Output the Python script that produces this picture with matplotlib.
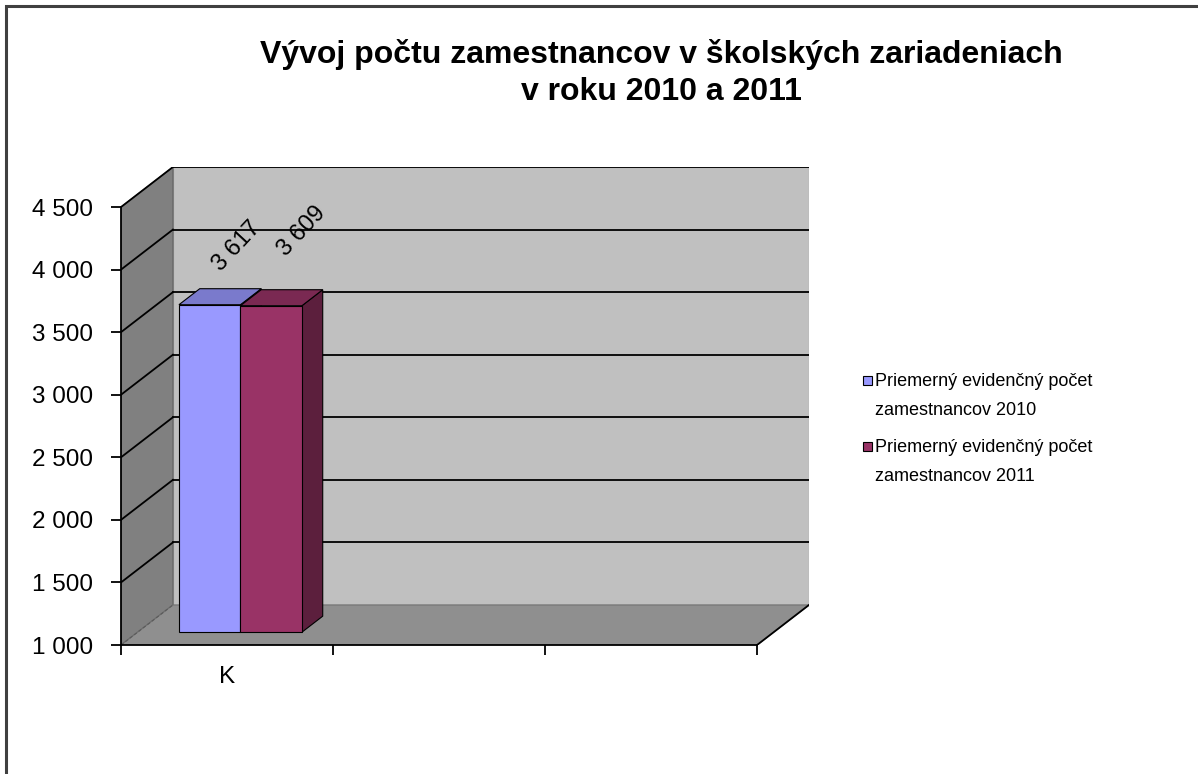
import matplotlib.pyplot as plt
from matplotlib.patches import Polygon, Rectangle

plt.rcParams['font.family'] = ['Liberation Sans', 'DejaVu Sans']

TITLE = 'Vývoj počtu zamestnancov v školských zariadeniach\nv roku 2010 a 2011'
categories = ['K', '', '']
series_names = ['Priemerný evidenčný počet\nzamestnancov 2010',
                'Priemerný evidenčný počet\nzamestnancov 2011']
values = [3617, 3609]
colors_front = ['#9999ff', '#993366']
colors_top = ['#7a7acc', '#7a2952']
colors_side = ['#5c5c99', '#5c1f3d']
yticks = [1000, 1500, 2000, 2500, 3000, 3500, 4000, 4500]

W, H = 1198, 774
fig = plt.figure(figsize=(W / 100, H / 100), dpi=100)

# depth offsets (category units, value units)
DX, DY = 0.245, 320
YMIN, YMAX = yticks[0], yticks[-1]
ncat = len(categories)

ax = fig.add_axes([121 / W, (H - 645) / H, 688 / W, 478 / H])
ax.set_xlim(0, ncat + DX)
ax.set_ylim(YMIN, YMAX + DY)
ax.patch.set_visible(False)

# walls and floor
ax.add_patch(Polygon([(DX, YMIN + DY), (ncat + DX, YMIN + DY), (ncat + DX, YMAX + DY), (DX, YMAX + DY)],
                     fc='#c0c0c0', ec='#9a9a9a', lw=0.8, zorder=0))
ax.add_patch(Polygon([(0, YMIN), (DX, YMIN + DY), (DX, YMAX + DY), (0, YMAX)],
                     fc='#808080', ec='#606060', lw=0.8, zorder=0))
ax.add_patch(Polygon([(0, YMIN), (ncat, YMIN), (ncat + DX, YMIN + DY), (DX, YMIN + DY)],
                     fc='#8f8f8f', ec='#707070', lw=0.8, zorder=0))

# gridlines on back and left walls
for v in yticks[1:]:
    ax.plot([DX, ncat + DX], [v + DY, v + DY], color='black', lw=1.3, zorder=1)
    ax.plot([0, DX], [v, v + DY], color='black', lw=1.3, zorder=1)
ax.plot([0, DX], [YMIN, YMIN + DY], color='#5a5a5a', lw=0.8, ls=(0, (3, 2)), zorder=1)
ax.plot([ncat, ncat + DX], [YMIN, YMIN + DY], color='black', lw=1.3, zorder=1)

# 3D bars
d0, d1 = 0.32, 0.72
bw = 0.29
b0 = 0.195
label_offsets = [(1, 18), (3, 29)]
for i, v in enumerate(values):
    xl = b0 + i * bw
    xr = xl + bw
    ax.add_patch(Polygon([(xr + d0 * DX, YMIN + d0 * DY), (xr + d1 * DX, YMIN + d1 * DY),
                          (xr + d1 * DX, v + d1 * DY), (xr + d0 * DX, v + d0 * DY)],
                         fc=colors_side[i], ec='black', lw=0.8, zorder=3))
    ax.add_patch(Polygon([(xl + d0 * DX, v + d0 * DY), (xr + d0 * DX, v + d0 * DY),
                          (xr + d1 * DX, v + d1 * DY), (xl + d1 * DX, v + d1 * DY)],
                         fc=colors_top[i], ec='black', lw=0.8, zorder=3))
    ax.add_patch(Rectangle((xl + d0 * DX, YMIN + d0 * DY), bw, v - YMIN,
                           fc=colors_front[i], ec='black', lw=0.8, zorder=4))
    cx = xl + bw / 2 + (d0 + d1) / 2 * DX
    cy = v + (d0 + d1) / 2 * DY
    ax.annotate(f'{v:,}'.replace(',', ' '), (cx, cy), xytext=label_offsets[i], textcoords='offset points',
                rotation=47, rotation_mode='anchor', ha='left', va='baseline', fontsize=17, zorder=5)

# axes
for s in ['top', 'right']:
    ax.spines[s].set_visible(False)
ax.spines['left'].set_bounds(YMIN, YMAX)
ax.spines['bottom'].set_bounds(0, ncat)
ax.spines['left'].set_linewidth(1.3)
ax.spines['bottom'].set_linewidth(1.3)
ax.set_yticks(yticks)
ax.set_yticklabels([f'{t:,}'.replace(',', ' ') for t in yticks], fontsize=17.5)
ax.tick_params(axis='y', length=7.2, width=1.3, pad=13)
ax.set_xticks(range(ncat + 1))
ax.set_xticklabels([])
ax.tick_params(axis='x', which='major', length=7.2, width=1.3)
ax.set_xticks([i + 0.5 for i in range(ncat)], minor=True)
ax.set_xticklabels(categories, minor=True, fontsize=17.5)
ax.tick_params(axis='x', which='minor', length=0, pad=15)

fig.text(661 / W, 1 - 73 / H, TITLE, ha='center', va='center', fontsize=23, fontweight='bold',
         linespacing=1.3)

# legend: square beside the first line of each two-line entry
for i, name in enumerate(series_names):
    first = 387 + i * 66
    fig.add_artist(Rectangle((863 / W, 1 - (first - 2) / H), 9 / W, 9 / H, transform=fig.transFigure,
                             fc=colors_front[i], ec='black', lw=0.8))
    # multi-line text with va='baseline' anchors on the last line
    fig.text(875 / W, 1 - (first + 28) / H, name, ha='left', va='baseline', fontsize=13, linespacing=1.95)

# chart border (left and top edges visible)
fig.add_artist(Rectangle((6 / W, -0.1), 1.2, 1 - 6 / H + 0.1, transform=fig.transFigure,
                         fill=False, ec='#404040', lw=2.2))

fig.savefig('out.png', dpi=100)
